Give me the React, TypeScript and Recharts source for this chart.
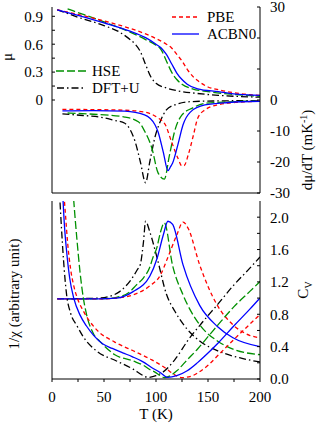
import React from 'react';
import { LineChart, Line, XAxis, YAxis } from 'recharts';

type Pt = [number, number];

// magnetisation mu(T)
const muPBE: Pt[] = [[5, 0.97], [25, 0.92], [50, 0.85], [75, 0.77], [90, 0.71], [100, 0.66], [110, 0.6], [115, 0.56], [120, 0.49], [125, 0.42], [130, 0.33], [135, 0.26], [140, 0.21], [150, 0.14], [160, 0.11], [180, 0.07], [200, 0.05]];
const muACBN0: Pt[] = [[5, 0.97], [25, 0.91], [50, 0.83], [75, 0.74], [90, 0.67], [100, 0.6], [105, 0.56], [110, 0.49], [115, 0.39], [120, 0.29], [125, 0.22], [130, 0.17], [140, 0.12], [160, 0.09], [180, 0.06], [200, 0.05]];
const muHSE: Pt[] = [[15, 0.98], [25, 0.94], [50, 0.84], [75, 0.73], [90, 0.65], [100, 0.59], [105, 0.54], [110, 0.42], [115, 0.3], [120, 0.22], [125, 0.17], [135, 0.12], [150, 0.09], [175, 0.06], [200, 0.04]];
const muDFTU: Pt[] = [[5, 0.97], [25, 0.89], [50, 0.8], [65, 0.73], [75, 0.65], [80, 0.6], [85, 0.52], [90, 0.38], [95, 0.25], [100, 0.18], [110, 0.13], [120, 0.1], [140, 0.07], [160, 0.05], [200, 0.03]];

// d mu / dT (mK^-1)
const dPBE: Pt[] = [[10, -3.0], [40, -3.1], [70, -3.3], [89, -3.9], [102, -5.8], [109, -8], [115, -13.5], [121, -18.7], [125, -21.3], [127, -21.2], [131, -17.7], [136, -11.3], [140, -6], [147, -3.2], [160, -1.5], [180, -0.7], [200, -0.4]];
const dACBN0: Pt[] = [[10, -3.5], [40, -3.4], [70, -3.6], [89, -4.8], [99, -8], [102, -10.3], [107, -16.8], [111.5, -22.8], [114, -21.5], [116, -20.3], [121, -14.5], [126, -8], [133, -3.9], [147, -1.6], [170, -0.8], [200, -0.4]];
const dHSE: Pt[] = [[15, -4.2], [40, -4.6], [70, -5.5], [83, -7], [89, -10], [96, -15.5], [102, -23.5], [108, -25.5], [113, -17.7], [118, -10], [125, -4.8], [135, -2.6], [147, -1.1], [170, -0.6], [200, -0.3]];
const dDFTU: Pt[] = [[10, -4.5], [30, -5], [46, -5.5], [59, -6.5], [70, -7.5], [75, -9.5], [80, -13.5], [85, -20], [90, -26.7], [94, -20], [99, -12], [104, -7], [110, -3.2], [118, -1.6], [135, -0.5], [160, -0.3], [200, -0.2]];

// inverse susceptibility (arbitrary unit)
const chiPBE: Pt[] = [[11, 7], [13, 6.0], [15, 5.0], [18, 4.0], [21, 3.4], [24, 3.0], [30, 2.5], [43, 1.8], [60, 1.36], [80, 1.0], [96, 0.7], [109, 0.4], [118, 0.15], [125, 0.05], [135, 0.12], [140, 0.22], [150, 0.5], [160, 0.88], [175, 1.45], [190, 2.0], [200, 2.36]];
const chiACBN0: Pt[] = [[10, 7], [12, 5.6], [14, 4.7], [17, 3.7], [21, 2.95], [27, 2.34], [33, 1.95], [40, 1.6], [49, 1.28], [58, 1.12], [68, 0.96], [77, 0.82], [88, 0.62], [95, 0.44], [104, 0.24], [111, 0.06], [120, 0.12], [130, 0.3], [140, 0.6], [150, 0.95], [160, 1.33], [175, 1.95], [190, 2.55], [200, 2.97]];
const chiHSE: Pt[] = [[20, 7], [22, 6.0], [24, 5.1], [27, 3.9], [30, 3.0], [33, 2.4], [40, 1.65], [46, 1.38], [60, 0.9], [78, 0.66], [88, 0.5], [94, 0.35], [99, 0.25], [105, 0.1], [108, 0.05], [115, 0.15], [120, 0.3], [130, 0.7], [140, 1.1], [150, 1.55], [160, 2.0], [175, 2.65], [190, 3.2], [200, 3.57]];
const chiDFTU: Pt[] = [[7, 7], [9, 5.6], [11, 4.4], [14, 3.1], [18, 2.4], [24, 1.95], [30, 1.55], [43, 1.02], [62, 0.66], [78, 0.36], [88, 0.12], [92, 0.06], [100, 0.12], [107, 0.26], [118, 0.7], [131, 1.43], [144, 2.05], [159, 2.72], [175, 3.45], [190, 4.05], [200, 4.47]];

// specific heat C_V
const cvPBE: Pt[] = [[5, 0.99], [45, 0.99], [62, 1.0], [78, 1.04], [94, 1.15], [104, 1.28], [111, 1.49], [120, 1.78], [126, 1.94], [131, 1.86], [142, 1.41], [159, 0.91], [174, 0.67], [190, 0.54], [200, 0.51]];
const cvACBN0: Pt[] = [[5, 0.99], [45, 0.99], [62, 1.0], [78, 1.08], [94, 1.27], [101, 1.49], [107, 1.78], [111.5, 1.95], [116, 1.91], [126, 1.41], [142, 0.91], [159, 0.65], [174, 0.51], [200, 0.4]];
const cvHSE: Pt[] = [[15, 0.99], [45, 0.99], [62, 1.01], [75, 1.08], [81, 1.16], [88, 1.25], [94, 1.38], [97, 1.5], [101, 1.63], [104, 1.8], [108, 1.93], [116, 1.4], [126, 1.04], [142, 0.67], [159, 0.47], [174, 0.37], [200, 0.3]];
const cvDFTU: Pt[] = [[5, 0.99], [45, 1.0], [55, 1.02], [65, 1.08], [75, 1.21], [82, 1.35], [85, 1.42], [88, 1.7], [90, 1.95], [94, 1.82], [101, 1.5], [110, 1.05], [118, 0.84], [126, 0.68], [142, 0.47], [159, 0.35], [181, 0.26], [200, 0.21]];

const tTicks = [0, 25, 50, 75, 100, 125, 150, 175, 200];
const muTicks = [0, 0.15, 0.3, 0.45, 0.6, 0.75, 0.9];
const dTicks = [-30, -20, -10, 0, 10, 20, 30];
const chiTicks = [0, 1, 2, 3, 4, 5, 6];
const cvTicks = [0, 0.2, 0.4, 0.6, 0.8, 1.0, 1.2, 1.4, 1.6, 1.8, 2.0];

const FONT = '"Liberation Serif", "Times New Roman", serif';
const tickStyle = { fill: '#000', fontSize: 15, fontFamily: FONT };

const styles = {
  DFTU: { color: '#000000', dash: '7 3 1.5 3' },
  HSE: { color: '#009000', dash: '8 3' },
  PBE: { color: '#ff0000', dash: '4 3' },
  ACBN0: { color: '#0000ff', dash: undefined as string | undefined },
};

const rows = (pts: Pt[]) => pts.map(([T, v]) => ({ T, v }));

const top = [
  { key: 'DFTU', mu: muDFTU, d: dDFTU },
  { key: 'HSE', mu: muHSE, d: dHSE },
  { key: 'PBE', mu: muPBE, d: dPBE },
  { key: 'ACBN0', mu: muACBN0, d: dACBN0 },
] as const;

const bottom = [
  { key: 'DFTU', chi: chiDFTU, cv: cvDFTU },
  { key: 'HSE', chi: chiHSE, cv: cvHSE },
  { key: 'PBE', chi: chiPBE, cv: cvPBE },
  { key: 'ACBN0', chi: chiACBN0, cv: cvACBN0 },
] as const;

const line = (id: string, yId: string, pts: Pt[], key: keyof typeof styles) => (
  <Line
    key={id}
    xAxisId="b"
    yAxisId={yId}
    data={rows(pts)}
    dataKey="v"
    type="monotone"
    stroke={styles[key].color}
    strokeDasharray={styles[key].dash}
    strokeWidth={1.3}
    dot={false}
    activeDot={false}
    isAnimationActive={false}
  />
);

const Legend = () => (
  <svg width={319} height={424} style={{ position: 'absolute', left: 0, top: 0, pointerEvents: 'none' }}>
    <g fontFamily={FONT} fontSize={15} fill="#000">
      <line x1={172} x2={199} y1={17} y2={17} stroke={styles.PBE.color} strokeDasharray={styles.PBE.dash} strokeWidth={1.3} />
      <text x={207} y={22}>PBE</text>
      <line x1={172} x2={199} y1={34} y2={34} stroke={styles.ACBN0.color} strokeWidth={1.3} />
      <text x={207} y={39}>ACBN0</text>
      <line x1={56} x2={86} y1={71} y2={71} stroke={styles.HSE.color} strokeDasharray={styles.HSE.dash} strokeWidth={1.3} />
      <text x={92} y={76}>HSE</text>
      <line x1={57} x2={86} y1={88} y2={88} stroke={styles.DFTU.color} strokeDasharray={styles.DFTU.dash} strokeWidth={1.3} />
      <text x={92} y={93}>DFT+U</text>

      <text transform="translate(12,57) rotate(-90)" textAnchor="middle">μ</text>
      <text transform="translate(312,150) rotate(-90)" textAnchor="middle">
        dμ/dT (mK<tspan dy={-5} fontSize={10}>-1</tspan><tspan dy={5}>)</tspan>
      </text>
      <text transform="translate(19,294) rotate(-90)" textAnchor="middle">1/χ (arbitrary unit)</text>
      <text transform="translate(308,290) rotate(-90)" textAnchor="middle">
        C<tspan dy={4} fontSize={10}>V</tspan>
      </text>
      <text x={156} y={419} textAnchor="middle">T (K)</text>
    </g>
  </svg>
);

export default function App() {
  return (
    <div style={{ position: 'absolute', left: 0, top: 0, width: 319, height: 424, background: '#fff' }}>
      <div style={{ position: 'absolute', left: 0, top: 0 }}>
        <LineChart width={319} height={200} margin={{ top: 7, right: 0, bottom: 0, left: 0 }}>
          <XAxis xAxisId="b" dataKey="T" type="number" domain={[0, 200]} ticks={tTicks} interval={0}
            allowDataOverflow tick={false} height={7} tickSize={3} stroke="#000" />
          <XAxis xAxisId="t" orientation="top" dataKey="T" type="number" domain={[0, 200]}
            tick={false} tickLine={false} height={0} stroke="#000" />
          <YAxis yAxisId="mu" orientation="left" type="number" domain={[-1, 1]} ticks={muTicks} interval={0}
            allowDataOverflow width={52} tickSize={-3} tickMargin={12} stroke="#000" tick={tickStyle}
            tickFormatter={(v: number) => (Math.round(v * 100) % 30 === 0 ? (v === 0 ? '0' : v.toFixed(1)) : '')} />
          <YAxis yAxisId="d" orientation="right" type="number" domain={[-30, 30]} ticks={dTicks} interval={0}
            allowDataOverflow width={59} tickSize={-3} tickMargin={13} stroke="#000" tick={tickStyle}
            tickFormatter={(v: number) => (v > 0 && v < 30 ? '' : String(v))} />
          {top.map((s) => line('mu' + s.key, 'mu', s.mu as Pt[], s.key))}
          {top.map((s) => line('d' + s.key, 'd', s.d as Pt[], s.key))}
        </LineChart>
      </div>
      <div style={{ position: 'absolute', left: 0, top: 200 }}>
        <LineChart width={319} height={224} margin={{ top: 1, right: 0, bottom: 0, left: 0 }}>
          <XAxis xAxisId="b" dataKey="T" type="number" domain={[0, 200]} ticks={tTicks} interval={0}
            allowDataOverflow height={45} tickSize={3} tickMargin={9} stroke="#000" tick={tickStyle}
            tickFormatter={(v: number) => (v % 50 === 0 ? String(v) : '')} />
          <XAxis xAxisId="t" orientation="top" dataKey="T" type="number" domain={[0, 200]}
            tick={false} tickLine={false} height={0} stroke="#000" />
          <YAxis yAxisId="chi" orientation="left" type="number" domain={[0, 6.52]} ticks={chiTicks} interval={0}
            allowDataOverflow width={52} tickSize={-3} tick={false} stroke="#000" />
          <YAxis yAxisId="cv" orientation="right" type="number" domain={[0, 2.2]} ticks={cvTicks} interval={0}
            allowDataOverflow width={59} tickSize={-3} tickMargin={13} stroke="#000" tick={tickStyle}
            tickFormatter={(v: number) => (Math.round(v * 10) % 4 === 0 ? v.toFixed(1) : '')} />
          {bottom.map((s) => line('cv' + s.key, 'cv', s.cv as Pt[], s.key))}
          {bottom.map((s) => line('chi' + s.key, 'chi', s.chi as Pt[], s.key))}
        </LineChart>
      </div>
      <Legend />
    </div>
  );
}
